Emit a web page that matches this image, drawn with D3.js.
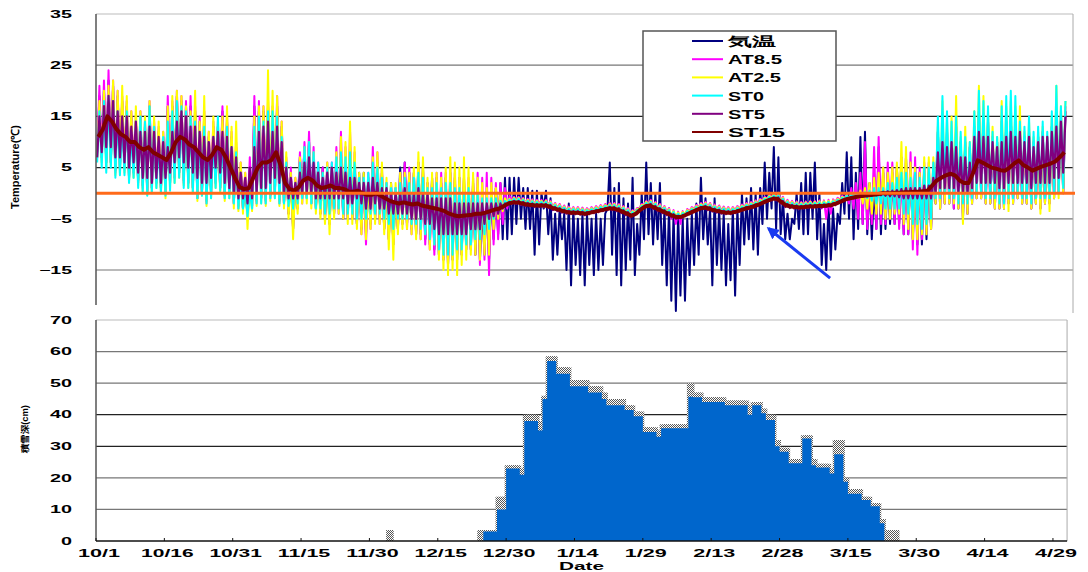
<!DOCTYPE html>
<html>
<head>
<meta charset="utf-8">
<script src="https://cdn.jsdelivr.net/npm/d3@7"></script>
<style>
  html, body { margin: 0; padding: 0; background: #fff; }
  svg { display: block; }
</style>
</head>
<body>
<div id="chart"></div>
<script>
// Daily values, index 0 = 10/1 ... index 212 = 4/30
var xTickDays = [0, 15, 30, 45, 60, 75, 90, 105, 120, 135, 150, 165, 180, 195, 210];
var xTickLabels = ["10/1", "10/16", "10/31", "11/15", "11/30", "12/15", "12/30", "1/14", "1/29", "2/13", "2/28", "3/15", "3/30", "4/14", "4/29"];
var tempTicks = [35, 25, 15, 5, -5, -15];
var snowTicks = [70, 60, 50, 40, 30, 20, 10, 0];

var seriesNames = ["気温", "AT8.5", "AT2.5", "ST0", "ST5", "ST15"];

var airLo = [8,7,6,6,4.5,5,5,3,4,2.5, 1.5,0.5,1,2,1,0,2,3,4,2.5, 2,1,-1,0,-1.5,0,2,1,-0.5,0, -2,-2.5,-3,-5,-2.5,-1.5,-1,-1.5,-0.5,0,
  -1.5,-2,-4,-7,-3,-1,-1,-2,-3,-4, -5,-6,-4,-3,-5,-5,-5,-6,-7,-8, -6,-5,-5,-7,-9,-10,-7,-6,-6,-7, -8,-8,-9,-10,-11,-12,-13,-14,-13,-13,
  -12,-11,-11,-12,-13,-12,-13,-9,-8,-9, -9,-8,-6,-5,-7,-7,-12,-10,-3,-8, -13,-12,-9,-15,-18,-14,-16,-18,-14,-16, -15,-14,-3,-12,-16,-18,-15,-13,-16,-12,
  -9,-8,-10,-9,-14,-18,-21,-23,-20,-21, -16,-14,-12,-9,-10,-18,-14,-15,-18,-17, -20,-14,-10,-9,-11,-12,-6,-5,-3,-7, -8,-9,-9,-6,-7,-8,-8,-5,-9,-14,
  -15,-13,-11,-6,-4,-5,-9,-7,-6,-8, -9,-7,-8,-7,-6,-6,-6,-8,-8,-9, -10,-10,-9,-7,-2,-3,-2,-2,-3,-3, -5,-4,-2,-1,-1,-2,-2,-3,-3,-3,
  -2,-2,-1,-2,-2,-3,-2,-3,-2,-2, -1,0,0];
var airHi = [19,20,22,21,19,18,17,15,14,15, 13,17,13,12,11,17,17,19,18,17, 17,16,14,15,11,13,13,16,14,11, 9,5,3,5,17,16,16,17,16,17,
  13,6,4,2,7,9,10,6,5,5, 4,5,7,8,7,9,6,4,4,3, 6,6,4,2,2,1,5,6,4,4, 6,5,2,3,3,2,3,4,3,3,
  3,2,2,1,-3,-1,0,1,2,3, 3,3,3,1,1,0.5,0.5,0,0.5,-1, -4,-3,-4,-2,-3,-5,-4,-4,-5,-4, -5,-4,6,1,2,-1,-2,3,-6,0,
  6,2,0,2,-3,-3,-4,-4,-5,-5, -4,-2,3,-1,-3,-1,-3,-4,-6,-3, -3,0,-1,1,0,1,6,4,9,7, -1,-4,-5,0,2,4,4,6,0,-6,
  -2,-3,-4,2,8,7,4,11,12,2, 1,9,4,4,4,5,7,7,6,5, 4,5,4,5,12,14,12,12,13,10, 10,9,13,16,15,14,11,10,14,14,
  15,14,12,11,12,10,11,12,10,13, 16,15,16];

var at85Lo = [8,7,6,6,4,5,5,3,4,2, 1,0,1,2,1,0,2,3,4,2, 2,1,-1,0,-2,0,2,1,-1,0, -2,-3,-3,-5,-3,-2,-1,-2,-1,0,
  -2,-2,-4,-7,-3,-2,-1,-2,-3,-4, -5,-6,-4,-4,-5,-5,-5,-6,-8,-10, -7,-5,-6,-7,-9,-10,-7,-6,-7,-8, -8,-9,-10,-11,-12,-12,-13,-14,-13,-12,
  -12,-11,-11,-12,-14,-13,-16,-10,-9,-6, -3,-1.5,-1.5,-1.7,-1.9,-2,-2.1,-2.1,-2.1,-2.3, -2.7,-2.9,-3.2,-3.4,-3.5,-3.5,-3.6,-3.7,-3.5,-3.3, -3.1,-2.9,-2.7,-2.7,-2.9,-3.3,-3.7,-4.1,-3.7,-2.9,
  -2.3,-2.1,-2.5,-2.9,-3.3,-3.7,-5,-6,-6,-4.5, -3.5,-3.1,-2.7,-2.5,-2.7,-3,-3.2,-3.4,-3.5,-3.5, -3.3,-3,-2.7,-2.5,-2.2,-1.9,-1.5,-1.1,-0.8,-0.8, -1.5,-2.1,-2.3,-2.4,-2.5,-2.4,-2.3,-2.3,-2.2,-3,
  -5,-4,-1.7,-1.3,-1,-2,-3,-5,-6,-7, -6,-7,-6,-6,-5,-6,-7,-8,-8,-11, -12,-9,-8,-7,-2,-3,-2,-2,-3,-3, -5,-4,-2,-1,-1,-2,-2,-3,-3,-3,
  -2,-2,-1,-2,-2,-3,-2,-3,-2,-2, -1,0,0];
var at85Hi = [21,22,24,22,20,19,18,16,15,16, 14,18,14,13,12,19,18,20,19,18, 19,17,15,16,12,14,13,17,15,12, 10,6,4,7,19,18,17,18,17,19,
  14,7,5,3,8,10,12,9,6,5, 6,6,9,12,9,12,8,3,3,4, 9,8,5,2,1,1,4,6,5,4, 6,5,2,3,4,4,4,5,4,3,
  3,3,3,4,3,4,3,2,2,1, -0.5,-0.7,-0.7,-0.9,-1.1,-1.2,-1.3,-1.3,-1.3,-1.5, -1.9,-2.1,-2.4,-2.6,-2.7,-2.7,-2.8,-2.9,-2.7,-2.5, -2.3,-2.1,-1.9,-1.9,-2.1,-2.5,-2.9,-3.3,-2.9,-2.1,
  -1.5,-1.3,-1.7,-2.1,-2.5,-2.9,-3.3,-3.6,-3.5,-3.1, -2.7,-2.3,-1.9,-1.7,-1.9,-2.2,-2.4,-2.6,-2.7,-2.7, -2.5,-2.2,-1.9,-1.7,-1.4,-1.1,-0.7,-0.3,0,0, -0.7,-1.3,-1.5,-1.6,-1.7,-1.6,-1.5,-1.5,-1.4,-1.4,
  -1.3,-1.2,-0.9,-0.5,-0.2,1,2,4,10,1, 9,11,5,6,6,5,5,7,8,7, 5,6,6,6,12,14,12,12,13,10, 10,9,13,16,15,14,11,10,14,14,
  15,14,12,11,12,10,11,12,10,13, 16,16,17];

var at25Lo = [7,6,5,5.5,3.5,4,4,2.5,3,1.5, 0.5,-0.3,0.3,1,0,-1,1,2,3,1.5, 1,0.3,-1.5,-0.5,-2.5,-1,1,0,-1.5,-1, -3,-3.5,-4,-7,-3.5,-2.5,-2,-2.5,-1.5,-1,
  -2.5,-3,-5,-9,-4,-2,-2,-3,-4,-5, -6,-8,-5,-4,-5,-6,-6,-7,-8,-9, -7,-6,-6,-8,-11,-13,-8,-7,-7,-8, -9,-9,-8,-11,-10,-13,-15,-16,-15,-16,
  -14,-13,-12,-12,-13,-12,-12,-7,-5,-3.5, -1.8,-1.6,-1.6,-1.8,-2,-2.1,-2.2,-2.2,-2.2,-2.4, -2.8,-3,-3.3,-3.5,-3.6,-3.6,-3.7,-3.8,-3.6,-3.4, -3.2,-3,-2.8,-2.8,-3,-3.4,-3.8,-4.2,-3.8,-3,
  -2.4,-2.2,-2.6,-3,-3.4,-3.8,-4.2,-4.5,-4.4,-4, -3.6,-3.2,-2.8,-2.6,-2.8,-3.1,-3.3,-3.5,-3.6,-3.6, -3.4,-3.1,-2.8,-2.6,-2.3,-2,-1.6,-1.2,-0.9,-0.9, -1.6,-2.2,-2.4,-2.5,-2.6,-2.5,-2.4,-2.4,-2.3,-2.3,
  -2.2,-2.1,-1.8,-1.4,-1.1,-1,-0.8,-1,-2,-3, -4,-4,-4,-5,-5,-4,-4,-6,-7,-9, -9,-8,-8,-7,-2,-3,-2,-2,-2,-3, -6,-4,-2,-1,-1,-2,-2,-3,-3,-3,
  -3.5,-2,-1,-2,-2,-3,-2,-4,-2,-3.5, -1,-1,0];
var at25Hi = [18,20,21,22,20,21,19,16,17,16, 15,18,15,14,12,17,19,20,19,17, 16,20,14,19,12,15,14,15,17,13, 14,6,4,2,15,17,17,24,20,19,
  14,8,4,3,7,9,10,8,5,4, 6,5,8,11,10,14,9,4,4,3, 7,8,6,3,2,2,4,4,4,5, 8,7,3,4,4,3,5,7,6,5,
  7,5,4,3,2,1,2,1,0,-1, -1.1,-0.9,-0.9,-1.1,-1.3,-1.4,-1.5,-1.5,-1.5,-1.7, -2.1,-2.3,-2.6,-2.8,-2.9,-2.9,-3,-3.1,-2.9,-2.7, -2.5,-2.3,-2.1,-2.1,-2.3,-2.7,-3.1,-3.5,-3.1,-2.3,
  -1.7,-1.5,-1.9,-2.3,-2.7,-3.1,-3.5,-3.8,-3.7,-3.3, -2.9,-2.5,-2.1,-1.9,-2.1,-2.4,-2.6,-2.8,-2.9,-2.9, -2.7,-2.4,-2.1,-1.9,-1.6,-1.3,-0.9,-0.5,-0.2,-0.2, -0.9,-1.5,-1.7,-1.8,-1.9,-1.8,-1.7,-1.7,-1.6,-1.6,
  -1.5,-1.4,-1.1,-0.7,-0.4,-0.2,0,0.5,1,2, 3,4,5,4,5,6,10,9,6,5, 4,7,7,7,13,18,14,15,19,11, 13,10,16,21,19,16,13,11,18,17,
  18,17,17,12,14,11,12,13,11,15, 21,17,18];

var st0Lo = [6,5,4,5,3,3.5,3.5,2,3,1, 0,-0.5,0,1,0,-0.5,0.5,2,3,1, 1,0,-1,-0.5,-2,-1,1,0.5,-1,-1, -2,-3,-3,-4.5,-3,-2,-2,-2,-1,-1,
  -2,-2,-2.5,-3,-2,-1,-1,-2,-3,-3, -4,-4,-3,-3,-4,-4,-4,-5,-5,-5, -4,-4,-4,-5,-6,-7,-5,-5,-5,-6, -6,-7,-8,-9,-10,-11,-12,-12,-12,-11,
  -11,-10,-10,-9,-9,-8,-7,-5,-4,-3, -2,-1.8,-1.8,-2,-2.2,-2.3,-2.4,-2.4,-2.4,-2.6, -3,-3.2,-3.5,-3.7,-3.8,-3.8,-3.9,-4,-3.8,-3.6, -3.4,-3.2,-3,-3,-3.2,-3.6,-4,-4.4,-4,-3.2,
  -2.6,-2.4,-2.8,-3.2,-3.6,-4,-4.4,-4.7,-4.6,-4.2, -3.8,-3.4,-3,-2.8,-3,-3.3,-3.5,-3.7,-3.8,-3.8, -3.6,-3.3,-3,-2.8,-2.5,-2.2,-1.8,-1.4,-1.1,-1.1, -1.8,-2.4,-2.6,-2.7,-2.8,-2.7,-2.6,-2.6,-2.5,-2.5,
  -2.4,-2.3,-2,-1.6,-1.2,-1,-0.8,-0.6,-0.6,-1, -1.5,-2,-2,-3,-3,-3,-3,-4,-4,-6, -6,-7,-6,-5,-1,-1,0,-1,-1,-2, -2,-2,-1,0,0,-1,-1,-1,-2,-2,
  -1,-1,0,-1,-1,-2,-1,-1,-1,-1, 0,0,1];
var st0Hi = [16,18,19,18,16,14,16,12,14,15, 14,17,13,10,11,14,16,18,17,16, 15,14,12,13,10,11,15,11,13,9, 8,4,1,0.5,13,15,14,16,16,15,
  11,6,3,2,6,9,10,8,6,4, 5,6,7,8,7,8,6,3,3,4, 6,5,3,2,1,1,2,3,2,3, 4,3,1,1,2,1,2,2,1,1,
  0,1,0,0,-1,-1,-1,-1,-1.5,-1.5, -1.3,-1.1,-1.1,-1.3,-1.5,-1.6,-1.7,-1.7,-1.7,-1.9, -2.3,-2.5,-2.8,-3,-3.1,-3.1,-3.2,-3.3,-3.1,-2.9, -2.7,-2.5,-2.3,-2.3,-2.5,-2.9,-3.3,-3.7,-3.3,-2.5,
  -1.9,-1.7,-2.1,-2.5,-2.9,-3.3,-3.7,-4,-3.9,-3.5, -3.1,-2.7,-2.3,-2.1,-2.3,-2.6,-2.8,-3,-3.1,-3.1, -2.9,-2.6,-2.3,-2.1,-1.8,-1.5,-1.1,-0.7,-0.4,-0.4, -1.1,-1.7,-1.9,-2,-2.1,-2,-1.9,-1.9,-1.8,-1.8,
  -1.7,-1.6,-1.3,-0.9,-0.5,-0.3,-0.1,0,0.2,0.5, 1,1,1,2,2,3,4,4,3,4, 3,5,5,6,15,19,16,14,15,12, 11,10,16,20,18,17,12,11,17,19,
  20,19,14,13,15,12,13,14,12,16, 21,17,18];

var st5Lo = [7,8,9,9,7,7,6,5,6,4, 3,3,2,3,2,3,4,6,7,6, 5,4,3,2,2,3,5,4,2,1, 0,-1,-1,-2,-1,0,1,1,2,3,
  2,0,-1,-1,-1,0,0,0,-1,-1, -1,-1,-1,-1,-1,-2,-2,-1,-2,-3, -3,-2,-3,-3,-4,-4,-4,-4,-4,-5, -5,-5,-6,-6,-7,-8,-8,-8,-8,-8,
  -8,-8,-7,-7,-7,-6,-5,-4.5,-4,-3, -2.3,-2.1,-2.1,-2.3,-2.5,-2.6,-2.7,-2.7,-2.7,-2.9, -3.3,-3.5,-3.8,-4,-4.1,-4.1,-4.2,-4.3,-4.1,-3.9, -3.7,-3.5,-3.3,-3.3,-3.5,-3.9,-4.3,-4.7,-4.3,-3.5,
  -2.9,-2.7,-3.1,-3.5,-3.9,-4.3,-4.7,-5,-4.9,-4.5, -4.1,-3.7,-3.3,-3.1,-3.3,-3.6,-3.8,-4,-4.1,-4.1, -3.9,-3.6,-3.3,-3.1,-2.8,-2.5,-2.1,-1.7,-1.4,-1.4, -2.1,-2.7,-2.9,-3,-3.1,-3,-2.9,-2.9,-2.8,-2.8,
  -2.7,-2.6,-2.3,-1.9,-1.4,-1.2,-1,-0.8,-0.7,-0.6, -0.5,-0.4,-0.4,-0.5,-0.6,-0.6,-0.8,-1,-1,-1, -1,-1,-1,-1,0,1,1,1,1,0, 0,0,1,2,2,2,2,2,1,1,
  2,2,2,2,2,1,2,2,2,2, 3,3,4];
var st5Hi = [15,17,19,18,16,15,15,13,14,12, 12,13,12,11,10,9,12,14,16,15, 13,13,12,11,10,11,12,12,11,9, 7,4,3,5,9,12,13,14,12,13,
  10,5,3,2,4,6,7,6,4,3, 4,5,4,5,4,3,3,2,2,2, 3,2,1,1,0,0,0,1,0,0, 1,0,0,-1,-1,-1,-1,-1,-2,-2,
  -2,-2,-2,-2,-2,-2,-2,-2,-2,-2, -1.7,-1.5,-1.5,-1.7,-1.9,-2,-2.1,-2.1,-2.1,-2.3, -2.7,-2.9,-3.2,-3.4,-3.5,-3.5,-3.6,-3.7,-3.5,-3.3, -3.1,-2.9,-2.7,-2.7,-2.9,-3.3,-3.7,-4.1,-3.7,-2.9,
  -2.3,-2.1,-2.5,-2.9,-3.3,-3.7,-4.1,-4.4,-4.3,-3.9, -3.5,-3.1,-2.7,-2.5,-2.7,-3,-3.2,-3.4,-3.5,-3.5, -3.3,-3,-2.7,-2.5,-2.2,-1.9,-1.5,-1.1,-0.8,-0.8, -1.5,-2.1,-2.3,-2.4,-2.5,-2.4,-2.3,-2.3,-2.2,-2.2,
  -2.1,-2,-1.7,-1.3,-1,-0.8,-0.6,-0.4,-0.3,-0.2, -0.1,0,0.3,0.4,0.5,0.6,0.8,1,1,1, 1,1.5,1.5,3,8,10,9,10,9,7, 7,6,11,12,11,11,10,9,10,11,
  12,11,12,10,11,9,10,11,11,12, 13,14,15];

var st15Mean = [11,12.5,15,14,12.5,11.5,11,10,10,9, 8.5,9,8,7.5,7,6.5,8,10,11,10.5, 9.5,9,8,7,6.5,7.5,9,8.5,7,5, 3,1.2,0.8,1,3,5,6,6,6.5,8,
  5.5,2,0.8,0.5,1.2,2.5,3,2.5,1.5,1, 1.2,1.5,1,1,0.8,0.3,0.3,0.5,0,-0.3, -0.3,0,-0.5,-1,-1.5,-1.8,-2,-1.8,-2,-2.2, -2,-2.4,-2.6,-2.8,-3,-3.2,-3.5,-4,-4.3,-4.5,
  -4.4,-4.3,-4.2,-4,-4,-3.8,-3.5,-3.2,-3,-2.5, -2,-1.8,-1.8,-2,-2.2,-2.3,-2.4,-2.4,-2.4,-2.6, -3,-3.2,-3.5,-3.7,-3.8,-3.8,-3.9,-4,-3.8,-3.6, -3.4,-3.2,-3,-3,-3.2,-3.6,-4,-4.4,-4,-3.2,
  -2.6,-2.4,-2.8,-3.2,-3.6,-4,-4.4,-4.7,-4.6,-4.2, -3.8,-3.4,-3,-2.8,-3,-3.3,-3.5,-3.7,-3.8,-3.8, -3.6,-3.3,-3,-2.8,-2.5,-2.2,-1.8,-1.4,-1.1,-1.1, -1.8,-2.4,-2.6,-2.7,-2.8,-2.7,-2.6,-2.6,-2.5,-2.5,
  -2.4,-2.3,-2,-1.6,-1.2,-1,-0.8,-0.6,-0.5,-0.4, -0.3,-0.2,0,0,0,0.1,0.1,0.2,0.2,0.3, 0.3,0.4,0.5,1.5,2.5,3,3.5,3.8,3.5,2.5, 2,2,4,6.4,6,5.5,5,4.8,4.5,4.4,
  5,5.8,6.4,5.5,5,4.4,4.8,5.2,5.5,5.8, 6.2,7,8];

// snow depth (cm), first value is day 60 (11/30)
var snowFirstDay = 60;
var snowDepth = [0,0,0,0,0,0,0,0,0,0, 0,0,0,0,0,0,0,0,0,0, 0,0,0,0,0,3,3,3,10,10,
  23,23,23,21,38,38,38,35,45,57, 57,53,53,53,49,49,49,49,47,47, 47,45,43,43,43,43,41.5,41.5,39.5,39.5,
  34.5,34.5,34.5,33,35.7,35.7,35.7,35.7,35.7,35.7, 45.7,45.5,45.5,44,44,44,44,44,43,43, 43,43,43,40,43,43,40.5,38.3,38.3,30,
  28.3,28.3,24.6,24.6,24.6,32.5,32.5,24,23.3,23.3, 23.3,21.4,27.5,27.5,18.8,15,15,15,13,13, 11,11,5.6,0,0,0,0];
var snowTrace = [0,0,0,0,3.5,0,0,0,0,0, 0,0,0,0,0,0,0,0,0,0, 0,0,0,0,3.5,3.5,3.5,3.5,14,14,
  24,24,24,23,40,40,40,38,46,58.5, 58.5,55,55,55,51,51,51,51,49,49, 49,47,45,45,45,45,43,43,41,41,
  36,36,36,35,37,37,37,37,37,37, 50,47,47,45.5,45.5,45.5,45.5,45.5,44.5,44.5, 44.5,44.5,44.5,43,44,44,42,40,40,32,
  29.5,29.5,26,26,26,33.5,33.5,26,24.5,24.5, 24.5,23,32,32,20,16.5,16.5,16.5,14,14, 12,12,7,3.5,3.5,3.5,0];

(function () {
  "use strict";
  var FONT = "'Liberation Sans', Arial, sans-serif";
  var W = 1088, H = 572;

  var svg = d3.select("#chart").append("svg")
    .attr("width", W).attr("height", H)
    .style("background", "#fff");
  var defs = svg.append("defs");

  function txt(g, x, y, s, size, len, anchor) {
    var t = g.append("text").attr("x", x).attr("y", y)
      .attr("font-family", FONT).attr("font-size", size + "px")
      .attr("font-weight", "bold").attr("fill", "#000")
      .attr("text-anchor", anchor || "start").text(s);
    if (len) t.attr("textLength", len).attr("lengthAdjust", "spacingAndGlyphs");
    return t;
  }

  var x = d3.scaleLinear().domain([0, 214.4]).range([96, 1073]);
  var yT = d3.scaleLinear().domain([-15, 35]).range([270, 14]);
  var yS = d3.scaleLinear().domain([0, 70]).range([541, 320]);
  var TOP_BOTTOM = 313, BOT_RIGHT = x(213.1);

  // ── Temperature panel ──
  var top = svg.append("g");
  top.append("line").attr("x1", 96).attr("x2", x(214.4)).attr("y1", yT(35)).attr("y2", yT(35))
    .attr("stroke", "#bbb");
  [25, 15, 5, -5, -15].forEach(function (v) {
    top.append("line").attr("x1", 96).attr("x2", x(214.4)).attr("y1", yT(v)).attr("y2", yT(v))
      .attr("stroke", (v === 15 || v === 5) ? "#222" : "#777").attr("stroke-width", 1.2);
  });
  top.append("line").attr("x1", x(214.4)).attr("x2", x(214.4)).attr("y1", yT(35)).attr("y2", TOP_BOTTOM)
    .attr("stroke", "#aaa");

  defs.append("clipPath").attr("id", "clip-temp")
    .append("rect").attr("x", 96).attr("y", yT(35)).attr("width", x(214.4) - 96).attr("height", TOP_BOTTOM - yT(35));
  var plot = top.append("g").attr("clip-path", "url(#clip-temp)");

  function zig(lo, hi) {
    var pts = [];
    lo.forEach(function (v, i) {
      pts.push([i + 0.25, v]);
      pts.push([i + 0.75, hi[i]]);
    });
    return pts;
  }
  var line = d3.line().x(function (d) { return x(d[0]); }).y(function (d) { return yT(d[1]); });

  var series = [
    { pts: zig(airLo, airHi), color: "#000080", w: 2 },
    { pts: zig(at85Lo, at85Hi), color: "#ff00ff", w: 2 },
    { pts: zig(at25Lo, at25Hi), color: "#ffff00", w: 2 },
    { pts: zig(st0Lo, st0Hi), color: "#00ffff", w: 2 },
    { pts: zig(st5Lo, st5Hi), color: "#800080", w: 2.2 },
    { pts: st15Mean.map(function (v, i) { return [i + 0.5, v]; }), color: "#800000", w: 4 }
  ];
  series.forEach(function (s) {
    plot.append("path").attr("d", line(s.pts)).attr("fill", "none")
      .attr("stroke", s.color).attr("stroke-width", s.w).attr("stroke-linejoin", "round");
  });

  // 0 °C line
  top.append("line").attr("x1", 96).attr("x2", x(214.4) + 2).attr("y1", yT(0)).attr("y2", yT(0))
    .attr("stroke", "#ff6a1a").attr("stroke-width", 3);

  top.append("line").attr("x1", 96).attr("x2", 96).attr("y1", yT(35)).attr("y2", TOP_BOTTOM - 8)
    .attr("stroke", "#555").attr("stroke-width", 1.5);

  tempTicks.forEach(function (v) {
    var s = v < 0 ? "\u2212" + Math.abs(v) : String(v);
    txt(svg, 72, yT(v) + 3.7, s, 10.5, s.length * 11, "end");
  });
  svg.append("text").attr("transform", "translate(19,167) rotate(-90)")
    .attr("text-anchor", "middle").attr("font-family", FONT).attr("font-size", "11px")
    .attr("font-weight", "bold").attr("textLength", 84).attr("lengthAdjust", "spacingAndGlyphs")
    .text("Temperature(℃)");

  // arrow annotation
  defs.append("marker").attr("id", "ahead").attr("viewBox", "0 0 10 10")
    .attr("refX", 8).attr("refY", 5).attr("markerWidth", 4).attr("markerHeight", 4)
    .attr("orient", "auto").append("path").attr("d", "M0,0L10,5L0,10z").attr("fill", "#1a3af0");
  top.append("line").attr("x1", x(161.1)).attr("y1", yT(-16.6)).attr("x2", x(147.6)).attr("y2", yT(-6.9))
    .attr("stroke", "#1a3af0").attr("stroke-width", 3).attr("marker-end", "url(#ahead)");

  // legend
  var leg = svg.append("g");
  leg.append("rect").attr("x", 643).attr("y", 31).attr("width", 193).attr("height", 110)
    .attr("fill", "#fff").attr("stroke", "#555").attr("stroke-width", 1.5);
  var legLens = [48, 54, 53, 36, 37, 57];
  seriesNames.forEach(function (n, i) {
    var yy = 41 + i * 18.2;
    leg.append("line").attr("x1", 692).attr("x2", 723).attr("y1", yy).attr("y2", yy)
      .attr("stroke", series[i].color).attr("stroke-width", 2);
    txt(leg, 728, yy + 5, n, 13, legLens[i], "start");
  });

  // ── Snow depth panel ──
  var bot = svg.append("g");
  bot.append("rect").attr("x", 96).attr("y", 314).attr("width", BOT_RIGHT - 96).attr("height", 227).attr("fill", "#fff");
  bot.append("line").attr("x1", 96).attr("x2", BOT_RIGHT).attr("y1", yS(70)).attr("y2", yS(70)).attr("stroke", "#bbb");
  [60, 50, 40, 30, 20, 10].forEach(function (v) {
    bot.append("line").attr("x1", 96).attr("x2", BOT_RIGHT).attr("y1", yS(v)).attr("y2", yS(v))
      .attr("stroke", (v === 30 || v === 40) ? "#222" : "#777").attr("stroke-width", 1.2);
  });

  var pat = defs.append("pattern").attr("id", "dots").attr("width", 2).attr("height", 2)
    .attr("patternUnits", "userSpaceOnUse");
  pat.append("rect").attr("width", 2).attr("height", 2).attr("fill", "#fff");
  pat.append("rect").attr("width", 1).attr("height", 1).attr("fill", "#555");
  pat.append("rect").attr("x", 1).attr("y", 1).attr("width", 1).attr("height", 1).attr("fill", "#555");

  function stepPts(vals) {
    var pts = [];
    vals.forEach(function (v, i) { pts.push([snowFirstDay + i, v]); });
    return pts;
  }
  var stepArea = function (dx) {
    return d3.area().curve(d3.curveStepAfter)
      .x(function (d) { return x(d[0]) + dx; })
      .y0(yS(0)).y1(function (d) { return yS(d[1]); });
  };
  var tracePts = stepPts(snowTrace);
  [-1.5, 1.5].forEach(function (dx) {
    bot.append("path").attr("d", stepArea(dx)(tracePts)).attr("fill", "url(#dots)");
  });
  bot.append("path").attr("d", stepArea(0)(stepPts(snowDepth))).attr("fill", "#0066cc");

  bot.append("line").attr("x1", BOT_RIGHT).attr("x2", BOT_RIGHT).attr("y1", yS(70)).attr("y2", yS(0)).attr("stroke", "#aaa");
  bot.append("line").attr("x1", 96).attr("x2", 96).attr("y1", yS(70)).attr("y2", yS(0)).attr("stroke", "#555").attr("stroke-width", 1.5);
  bot.append("line").attr("x1", 96).attr("x2", BOT_RIGHT).attr("y1", yS(0)).attr("y2", yS(0)).attr("stroke", "#111").attr("stroke-width", 1.5);

  xTickDays.forEach(function (d, i) {
    bot.append("line").attr("x1", x(d)).attr("x2", x(d)).attr("y1", yS(0)).attr("y2", yS(0) - 3).attr("stroke", "#111");
    txt(svg, x(d) + 3, 557, xTickLabels[i], 11, xTickLabels[i].length * 10.5, "middle");
  });
  snowTicks.forEach(function (v) {
    var s = String(v);
    txt(svg, 72, yS(v) + 3.7, s, 10.5, s.length * 11, "end");
  });
  txt(svg, (96 + BOT_RIGHT) / 2, 569.5, "Date", 11, 45, "middle");
  svg.append("text").attr("transform", "translate(28,429) rotate(-90)")
    .attr("text-anchor", "middle").attr("font-family", FONT).attr("font-size", "9px")
    .attr("font-weight", "bold").attr("textLength", 48).attr("lengthAdjust", "spacingAndGlyphs")
    .text("積雪深(cm)");
})();
</script>
</body>
</html>
